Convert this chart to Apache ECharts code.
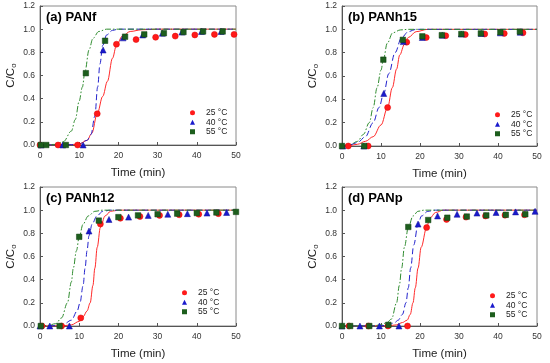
<!DOCTYPE html>
<html><head><meta charset="utf-8">
<script src="https://cdn.jsdelivr.net/npm/echarts@6/dist/echarts.min.js"></script>
<style>html,body{margin:0;padding:0;background:#fff}#c{width:550px;height:363px}</style>
</head><body><div id="c"></div>
<script>
// ---- Data (t in min, C/Co) ----
var panelTitles = ['(a) PANf', '(b) PANh15', '(c) PANh12', '(d) PANp'];
var seriesNames = ['25 °C', '40 °C', '55 °C'];
var xTicks = [0, 10, 20, 30, 40, 50];
var yTicks = [0, 0.2, 0.4, 0.6, 0.8, 1.0, 1.2];

// Panel (a) experimental
var a25 = [[0,0],[4.6,0],[9.6,0],[14.6,0.27],[19.5,0.87],[24.5,0.91],[29.5,0.93],[34.5,0.94],[39.5,0.95],[44.5,0.955],[49.5,0.955]];
var a40 = [[0.3,0],[5.8,0],[11,0],[16.1,0.82],[21.2,0.925],[26.2,0.95],[31.2,0.965],[36.2,0.975],[41.2,0.98],[46.2,0.98]];
var a55 = [[0.2,0],[1.6,0],[6.6,0],[11.7,0.62],[16.6,0.9],[21.7,0.935],[26.6,0.955],[31.6,0.965],[36.6,0.975],[41.6,0.98],[46.6,0.98]];
// Panel (a) model curves
var a25f = [[0,0],[8,0.003],[10,0.01],[12,0.04],[13.2,0.1],[14.6,0.27],[16,0.42],[17.2,0.55],[18.5,0.75],[19.5,0.86],[21,0.94],[23,0.98],[26,0.995],[30,1],[50,1]];
var a40f = [[0,0],[8,0.003],[10,0.01],[12,0.04],[13,0.09],[14,0.25],[14.7,0.5],[15.3,0.7],[16,0.86],[17,0.95],[18.5,0.99],[20,1],[50,1]];
var a55f = [[0,0],[4,0.005],[6,0.03],[8,0.12],[9,0.22],[10,0.38],[10.8,0.5],[11.5,0.64],[12.5,0.82],[13.5,0.92],[15,0.98],[17,1],[50,1]];

// Panel (b)
var b25 = [[1.6,0],[6.7,0],[11.7,0.33],[16.6,0.89],[21.6,0.93],[26.6,0.945],[31.6,0.955],[36.6,0.96],[41.6,0.965],[46.4,0.97]];
var b40 = [[0.2,0],[5.6,0],[10.7,0.45],[15.7,0.895],[20.6,0.93],[25.7,0.95],[30.6,0.96],[35.7,0.965],[40.6,0.97],[45.7,0.975]];
var b55 = [[0,0],[5.7,0],[10.6,0.74],[15.6,0.91],[20.6,0.94],[25.6,0.95],[30.6,0.96],[35.6,0.965],[40.6,0.975],[45.6,0.98]];
var b25f = [[0,0],[2,0.005],[4,0.015],[6,0.04],[8,0.08],[10,0.18],[11.7,0.33],[12.9,0.5],[14,0.66],[14.8,0.78],[16,0.87],[17,0.93],[19,0.98],[22,1],[50,1]];
var b40f = [[0,0],[2,0.01],[4,0.03],[6,0.08],[8,0.2],[9.5,0.33],[10.7,0.45],[12,0.62],[13.6,0.8],[15.3,0.93],[17,0.98],[19,1],[50,1]];
var b55f = [[0,0],[2,0.01],[4,0.04],[5.5,0.1],[7,0.2],[8,0.33],[9,0.5],[10,0.65],[10.6,0.74],[11.6,0.88],[13,0.97],[15,0.995],[17,1],[50,1]];

// Panel (c)
var c25 = [[0.5,0],[5.5,0],[10.4,0.07],[15.4,0.88],[20.5,0.93],[25.5,0.945],[30.5,0.955],[35.5,0.96],[40.5,0.965],[45.5,0.97]];
var c40 = [[0,0],[2.5,0],[7.5,0],[12.5,0.82],[17.6,0.92],[22.6,0.94],[27.6,0.955],[32.6,0.965],[37.6,0.97],[42.6,0.975],[47.6,0.98]];
var c55 = [[0.2,0],[5,0],[10,0.77],[15,0.91],[20,0.94],[25,0.955],[30,0.965],[35,0.97],[40,0.975],[45,0.98],[50,0.985]];
var c25f = [[0,0],[6,0.002],[8,0.01],[10,0.04],[11,0.08],[12,0.13],[12.8,0.2],[13.5,0.35],[14,0.5],[14.6,0.68],[15.4,0.85],[16.6,0.95],[18,0.99],[20,1],[50,1]];
var c40f = [[0,0],[4,0.003],[6,0.015],[8,0.05],[9.5,0.13],[10.2,0.2],[11,0.35],[11.5,0.5],[12,0.65],[12.5,0.78],[13.3,0.88],[14.5,0.95],[16,0.99],[18,1],[50,1]];
var c55f = [[0,0],[2,0.005],[4,0.02],[5.5,0.07],[7,0.2],[8,0.38],[8.5,0.5],[9.3,0.65],[10,0.77],[11,0.88],[12.3,0.95],[14,0.99],[16,1],[50,1]];

// Panel (d)
var d25 = [[1.8,0],[6.8,0],[11.8,0],[16.8,0],[21.7,0.85],[26.8,0.92],[31.8,0.94],[36.8,0.95],[41.8,0.957],[46.8,0.96]];
var d40 = [[0,0],[4.6,0],[9.6,0],[14.6,0],[19.5,0.88],[24.5,0.95],[29.5,0.965],[34.6,0.975],[39.5,0.98],[44.5,0.985],[49.5,0.99]];
var d55 = [[0,0],[2.1,0],[7,0],[11.9,0.01],[17,0.855],[22.1,0.915],[27,0.935],[32,0.945],[37,0.955],[42,0.96],[47,0.965]];
var d25f = [[0,0],[12,0.002],[14,0.01],[15.5,0.03],[16.7,0.05],[17.5,0.1],[18.2,0.2],[18.8,0.33],[19.5,0.5],[20.3,0.68],[21.7,0.85],[22.5,0.93],[24,0.98],[26,1],[50,1]];
var d40f = [[0,0],[10,0.002],[12,0.01],[13.5,0.03],[14.4,0.05],[15.5,0.1],[16.4,0.2],[17,0.33],[17.6,0.5],[18.4,0.7],[19.5,0.88],[20.4,0.95],[22,0.99],[24,1],[50,1]];
var d55f = [[0,0],[8,0.002],[10,0.01],[11.5,0.03],[12.7,0.06],[14,0.2],[14.7,0.35],[15.3,0.5],[16,0.68],[17,0.85],[18.2,0.95],[19.5,0.99],[21,1],[50,1]];

var expData = [[a25,a40,a55],[b25,b40,b55],[c25,c40,c55],[d25,d40,d55]];
var fitData = [[a25f,a40f,a55f],[b25f,b40f,b55f],[c25f,c40f,c55f],[d25f,d40f,d55f]];

// ---- Layout / style ----
var FONT = 'Arial, "Liberation Sans", sans-serif';
var grids = [
  {left:40, top:6, width:196, height:139},
  {left:342, top:6, width:195, height:140},
  {left:40, top:187, width:196, height:139},
  {left:342, top:187, width:195, height:139}
];
var legendPos = [
  {left:190, top:108},
  {left:495, top:110},
  {left:182, top:288},
  {left:490, top:291}
];
var markerColors = ['#ff1a1a', '#1a1acc', '#1d5e1d'];
var markerBorders = ['#e00000', '#10109a', '#0e3f0e'];
var lineColors = ['#ff2a2a', '#2222cc', '#2e8b2e'];
var lineTypes = ['solid', [6,3], [6,2,1.5,2]];
var symbols = ['circle', 'triangle', 'rect'];
var symSizes = [6, 6, 5.5];

var option = {
  animation: false,
  backgroundColor: '#fff',
  grid: [], xAxis: [], yAxis: [], series: [], legend: [], graphic: []
};

for (var p = 0; p < 4; p++) {
  var g = grids[p];
  option.grid.push({left:g.left, top:g.top, width:g.width, height:g.height, show:true, borderColor:'#8a8a8a', borderWidth:1, backgroundColor:'transparent'});
  option.xAxis.push({
    type:'value', gridIndex:p, min:0, max:50, interval:10,
    name:'Time (min)', nameLocation:'middle', nameGap:22,
    nameTextStyle:{fontFamily:FONT, fontSize:11.5, color:'#222'},
    axisLine:{show:true, lineStyle:{color:'#555', width:1}},
    axisTick:{show:true, inside:true, length:3, lineStyle:{color:'#555'}},
    axisLabel:{fontFamily:FONT, fontSize:8.5, color:'#333', margin:6},
    splitLine:{show:false}
  });
  option.yAxis.push({
    type:'value', gridIndex:p, min:0, max:1.2, interval:0.2,
    name:'C/C{s|o}', nameLocation:'middle', nameGap:22, nameRotate:90,
    nameTextStyle:{fontFamily:FONT, fontSize:11.5, color:'#222', rich:{s:{fontFamily:FONT, fontSize:8, color:'#222', verticalAlign:'bottom', padding:[6,0,0,0]}}},
    axisLine:{show:true, lineStyle:{color:'#555', width:1}},
    axisTick:{show:true, inside:true, length:3, lineStyle:{color:'#555'}},
    axisLabel:{fontFamily:FONT, fontSize:8.5, color:'#333', margin:5, formatter:function(v){return v.toFixed(1);}},
    splitLine:{show:false}
  });
  option.graphic.push({
    type:'text', left:g.left + 6, top:g.top + 5,
    style:{text:panelTitles[p], font:'bold 13px ' + FONT, fill:'#000'}
  });
  for (var s = 0; s < 3; s++) {
    option.series.push({
      type:'line', name:'fit' + p + s, xAxisIndex:p, yAxisIndex:p,
      data:fitData[p][s], smooth:0.35, smoothMonotone:'x', showSymbol:false, symbol:'none',
      lineStyle:{color:lineColors[s], width:1, type:lineTypes[s]}, z:2, silent:true
    });
  }
  for (var s2 = 0; s2 < 3; s2++) {
    option.series.push({
      type:'scatter', name:seriesNames[s2], xAxisIndex:p, yAxisIndex:p,
      data:expData[p][s2], symbol:symbols[s2], symbolSize:symSizes[s2],
      itemStyle:{color:markerColors[s2], borderColor:markerBorders[s2], borderWidth:0.5, opacity:1}, z:3 + s2
    });
  }
  option.legend.push({
    left:legendPos[p].left, top:legendPos[p].top, orient:'vertical',
    itemWidth:5, itemHeight:5, itemGap:0, padding:0,
    itemStyle:{borderWidth:0},
    textStyle:{fontFamily:FONT, fontSize:8.5, lineHeight:9.5, height:9.5, color:'#222', padding:[0,0,0,6]},
    selectedMode:false,
    data:[{name:seriesNames[0], icon:'circle'},{name:seriesNames[1], icon:'triangle'},{name:seriesNames[2], icon:'rect'}]
  });
}

var chart = echarts.init(document.getElementById('c'), null, {renderer:'canvas'});
chart.setOption(option);
</script>
</body></html>
